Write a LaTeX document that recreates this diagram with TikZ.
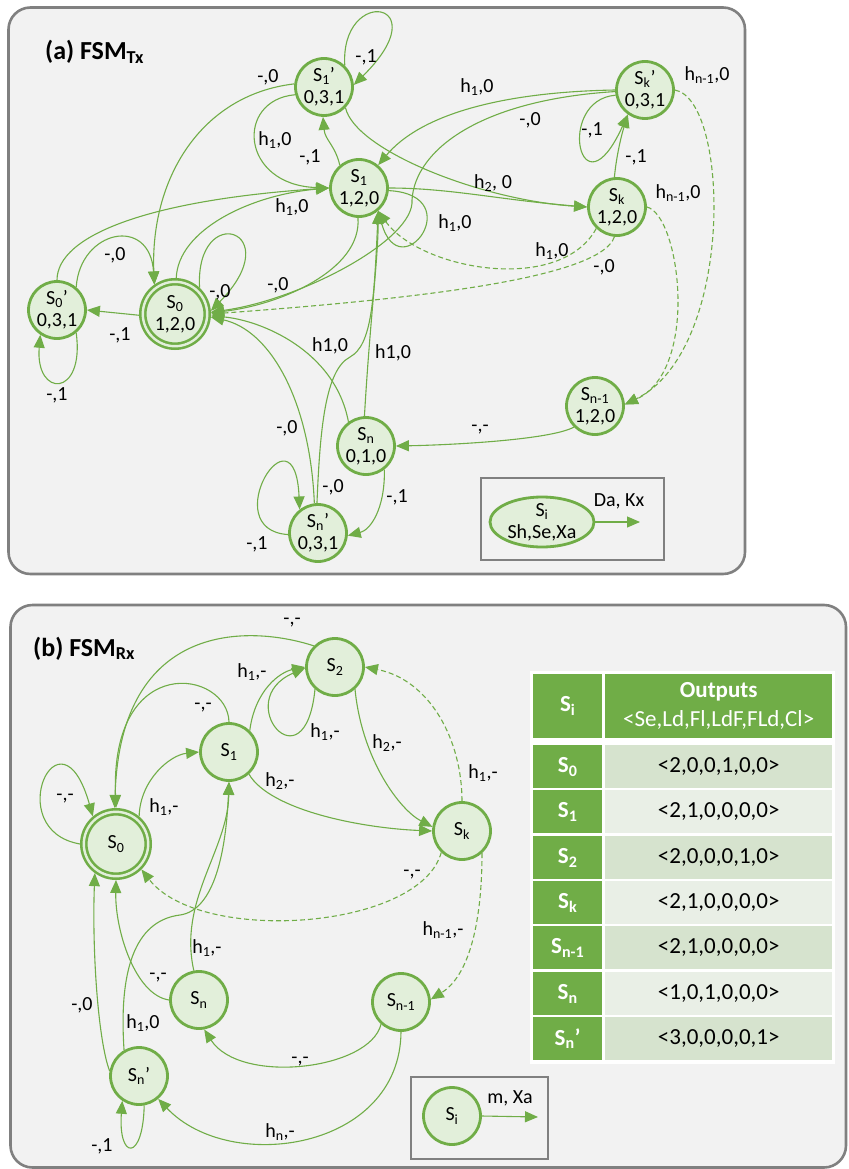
\documentclass[tikz,border=0pt]{standalone}
\usepackage{fontspec}
\setmainfont{Carlito}
\usetikzlibrary{arrows.meta,shapes.geometric}

\definecolor{gA}{HTML}{70AD47}
\definecolor{gL}{HTML}{E2EFDA}
\definecolor{panel}{HTML}{F2F2F2}
\definecolor{frame}{HTML}{808080}
\definecolor{rowD}{HTML}{D6E3CE}
\definecolor{rowL}{HTML}{E9EFE6}

\newcommand{\lblfont}{\fontsize{20}{22}\selectfont}
\newcommand{\tabfont}{\fontsize{23}{29}\selectfont}

\tikzset{
  stnode/.style={circle, draw=gA, fill=gL, line width=2.8pt, minimum size=57pt,
    inner sep=-6pt, outer sep=1.4pt, align=center, font=\lblfont},
  stinit/.style={stnode, double=gL, double distance=2.4pt, line width=2.6pt,
    minimum size=64.4pt, outer sep=3.8pt},
  tr/.style={draw=gA, line width=1.1pt, -{Triangle[length=13pt,width=11pt]}},
  trd/.style={tr, dash pattern=on 5pt off 3pt},
  lab/.style={font=\lblfont, inner sep=0pt},
  panelbox/.style={draw=frame, fill=panel, line width=2.6pt, rounded corners=22pt},
  legbox/.style={draw=frame, fill=panel, line width=2.4pt},
  hdcell/.style={fill=gA, text=white, inner sep=0pt, anchor=north west, font=\tabfont\bfseries},
  valcell/.style={inner sep=0pt, anchor=north west, minimum width=227pt,
    minimum height=43pt, font=\tabfont},
}

\begin{document}
\begin{tikzpicture}[x=1pt,y=-1pt]
\useasboundingbox (0,0) rectangle (848,1169);
\fill[white] (0,0) rectangle (848,1169);

% ---------- panels ----------
\draw[panelbox] (8.5,7.5) rectangle (745,574);
\draw[panelbox] (10.5,605) rectangle (846,1167.5);

\node[anchor=base west, inner sep=0pt, font=\fontsize{26}{30}\selectfont\bfseries] (titA) at (45,60) {(a) FSM\textsubscript{Tx}};
\node[anchor=base west, inner sep=0pt, font=\fontsize{26}{30}\selectfont\bfseries] (titB) at (33,656) {(b) FSM\textsubscript{Rx}};

% ---------- (a) transmitter FSM: states ----------
\node[stnode] (a1p) at (324,87) {S\textsubscript{1}’\\0,3,1};
\node[stnode] (a1) at (359,188) {S\textsubscript{1}\\1,2,0};
\node[stinit] (a0) at (175,314) {S\textsubscript{0}\\1,2,0};
\node[stnode] (a0p) at (57,310) {S\textsubscript{0}’\\0,3,1};
\node[stnode] (akp) at (645,90) {S\textsubscript{k}’\\0,3,1};
\node[stnode] (ak) at (617,207) {S\textsubscript{k}\\1,2,0};
\node[stnode] (an1) at (595,406) {S\textsubscript{n-1}\\1,2,0};
\node[stnode] (an) at (366,446) {S\textsubscript{n}\\0,1,0};
\node[stnode] (anp) at (318,533) {S\textsubscript{n}’\\0,3,1};

% ---------- (a) transitions ----------
\draw[tr] (a1p.46) .. controls (340,-15) and (440,0) .. (a1p.4);
\draw[tr] (a1p.174) .. controls (200,95) and (150,180) .. (a0.125);
\draw[tr] (a1p.195) .. controls (235,100) and (240,185) .. (a1.180);
\draw[tr] (a0p.90) .. controls (57,235) and (150,200) .. (a1.180);
\draw[tr] (a0.88) .. controls (178,230) and (250,195) .. (a1.180);
\draw[tr] (a1.130) .. controls (335,145) and (325,140) .. (a1p.268);
\draw[tr] (a1p.316) .. controls (355,150) and (480,200) .. (ak.180);
\draw[tr] (a1.0) .. controls (450,188) and (500,200) .. (ak.180);
\draw[tr] (akp.180) .. controls (500,92) and (420,115) .. (a1.50);
\draw[tr] (akp.183) .. controls (480,100) and (415,150) .. (412,200)
          .. controls (415,240) and (300,300) .. (a0.3);
\draw[tr] (ak.95) .. controls (616,160) and (620,140) .. (akp.235);
\draw[tr] (akp.190) .. controls (555,100) and (580,220) .. (akp.235);
\draw[tr] (a1.268) .. controls (362,270) and (280,305) .. (a0.2);
\draw[tr] (a1.-5) .. controls (470,195) and (400,290) .. (a1.-50);
\draw[trd] (ak.226) .. controls (560,295) and (420,270) .. (a1.-50);
\draw[trd] (ak.265) .. controls (600,280) and (400,300) .. (a0.0);
\draw[tr] (a0.47) .. controls (195,200) and (290,230) .. (a0.5);
\draw[tr] (a0.182) -- (a0p.0);
\draw[tr] (a0p.50) .. controls (80,230) and (150,215) .. (a0.125);
\draw[tr] (a0p.-50) .. controls (85,398) and (35,398) .. (a0p.236);
\draw[tr] (an.126) .. controls (335,350) and (260,320) .. (a0.-3);
\draw[tr] (an.93) .. controls (370,320) and (378,260) .. (a1.-50);
\draw[tr] (anp.92) .. controls (320,430) and (325,370) .. (350,357)
          .. controls (372,345) and (374,300) .. (a1.-50);
\draw[tr] (anp.97) .. controls (310,400) and (270,330) .. (a0.-5);
\draw[tr] (an.-52) .. controls (385,510) and (370,530) .. (anp.-5);
\draw[tr] (anp.183) .. controls (215,530) and (295,400) .. (anp.128);
\draw[tr] (an1.225) .. controls (550,440) and (450,445) .. (an.0);
\draw[trd] (akp.0) .. controls (730,100) and (735,350) .. (an1.3);
\draw[trd] (ak.0) .. controls (680,215) and (700,370) .. (an1.3);

% ---------- (a) transition labels ----------
\node[lab] (la1) at (366,57) {-,1};
\node[lab] (la2) at (268,77) {-,0};
\node[lab] (la3) at (275,140) {h\textsubscript{1},0};
\node[lab] (la4) at (310,157) {-,1};
\node[lab] (la5) at (292,207) {h\textsubscript{1},0};
\node[lab] (la6) at (477,87) {h\textsubscript{1},0};
\node[lab] (la7) at (530,120) {-,0};
\node[lab] (la8) at (592,130) {-,1};
\node[lab] (la9) at (636,157) {-,1};
\node[lab] (la10) at (707,75) {h\textsubscript{n-1},0};
\node[lab] (la11) at (493,183) {h\textsubscript{2}, 0};
\node[lab] (la12) at (678,193) {h\textsubscript{n-1},0};
\node[lab] (la13) at (455,223) {h\textsubscript{1},0};
\node[lab] (la14) at (552,251) {h\textsubscript{1},0};
\node[lab] (la15) at (604,267) {-,0};
\node[lab] (la16) at (115,255) {-,0};
\node[lab] (la17) at (220,292) {-,0};
\node[lab] (la18) at (278,285) {-,0};
\node[lab] (la19) at (120,335) {-,1};
\node[lab] (la20) at (57,395) {-,1};
\node[lab] (la21) at (330,346) {h1,0};
\node[lab] (la22) at (393,353) {h1,0};
\node[lab] (la23) at (287,428) {-,0};
\node[lab] (la24) at (333,487) {-,0};
\node[lab] (la25) at (397,497) {-,1};
\node[lab] (la26) at (257,544) {-,1};
\node[lab] (la27) at (480,430) {-,-};

% ---------- (a) legend ----------
\draw[legbox] (481,478) rectangle (664,560);
\node[ellipse, draw=gA, fill=gL, line width=2.8pt, minimum width=104pt, minimum height=50pt,
      inner xsep=0pt, inner ysep=-6pt, align=center, font=\lblfont] (lgA) at (542,522)
      {S\textsubscript{i}\\Sh,Se,Xa};
\coordinate (lgAend) at (640,522);
\draw[tr] (lgA.east) -- (lgAend);
\node[lab] (lgAlab) at (619,501) {Da, Kx};

% ---------- (b) receiver FSM: states ----------
\node[stnode] (b2) at (335,667) {S\textsubscript{2}};
\node[stnode] (b1) at (229,752) {S\textsubscript{1}};
\node[stinit] (b0) at (116,844) {S\textsubscript{0}};
\node[stnode] (bk) at (462,831) {S\textsubscript{k}};
\node[stnode] (bn) at (199,1000) {S\textsubscript{n}};
\node[stnode] (bn1) at (401,1002) {S\textsubscript{n-1}};
\node[stnode] (bnp) at (139,1076) {S\textsubscript{n}’};

% ---------- (b) transitions ----------
\draw[tr] (b0.180) .. controls (0,830) and (60,700) .. (b0.130);
\draw[tr] (b0.50) .. controls (140,780) and (170,755) .. (b1.180);
\draw[tr] (b1.90) .. controls (228,670) and (110,650) .. (b0.90);
\draw[tr] (b2.135) .. controls (250,625) and (120,620) .. (b0.92);
\draw[tr] (b1.46) .. controls (255,690) and (280,672) .. (b2.180);
\draw[tr] (b2.228) .. controls (305,790) and (230,700) .. (b2.182);
\draw[tr] (b1.-48) .. controls (270,810) and (360,828) .. (bk.180);
\draw[tr] (b2.-48) .. controls (362,760) and (400,810) .. (bk.172);
\draw[trd] (bk.90) .. controls (462,740) and (430,680) .. (b2.0);
\draw[trd] (bk.226) .. controls (420,930) and (200,945) .. (b0.-45);
\draw[trd] (bk.-48) .. controls (482,920) and (470,975) .. (bn1.5);
\draw[tr] (bn.180) .. controls (135,995) and (115,930) .. (b0.-90);
\draw[tr] (bn.100) .. controls (178,900) and (228,850) .. (b1.-90);
\draw[tr] (bnp.120) .. controls (118,960) and (140,920) .. (180,915)
          .. controls (215,910) and (226,850) .. (b1.-90);
\draw[tr] (bnp.170) .. controls (98,1040) and (92,950) .. (b0.234);
\draw[tr] (bnp.-80) .. controls (143,1162) and (118,1160) .. (bnp.236);
\draw[tr] (bn1.228) .. controls (370,1070) and (240,1085) .. (bn.-80);
\draw[tr] (bn1.-90) .. controls (400,1150) and (230,1175) .. (bnp.-50);

% ---------- (b) transition labels ----------
\node[lab] (lb1) at (292,623) {-,-};
\node[lab] (lb2) at (252,672) {h\textsubscript{1},-};
\node[lab] (lb3) at (203,708) {-,-};
\node[lab] (lb4) at (325,732) {h\textsubscript{1},-};
\node[lab] (lb5) at (387,743) {h\textsubscript{2},-};
\node[lab] (lb6) at (65,799) {-,-};
\node[lab] (lb7) at (164,807) {h\textsubscript{1},-};
\node[lab] (lb8) at (280,781) {h\textsubscript{2},-};
\node[lab] (lb9) at (483,773) {h\textsubscript{1},-};
\node[lab] (lb10) at (412,875) {-,-};
\node[lab] (lb11) at (443,930) {h\textsubscript{n-1},-};
\node[lab] (lb12) at (207,948) {h\textsubscript{1},-};
\node[lab] (lb13) at (158,978) {-,-};
\node[lab] (lb14) at (82,1005) {-,0};
\node[lab] (lb15) at (143,1023) {h\textsubscript{1},0};
\node[lab] (lb16) at (300,1062) {-,-};
\node[lab] (lb17) at (280,1132) {h\textsubscript{n},-};
\node[lab] (lb18) at (102,1146) {-,1};

% ---------- (b) legend ----------
\draw[legbox] (411,1077) rectangle (548,1159);
\node[stnode] (lgB) at (452,1116) {S\textsubscript{i}};
\coordinate (lgBend) at (538,1117);
\draw[tr] (lgB.east) -- (lgBend);
\node[lab] (lgBlab) at (510,1098) {m, Xa};

% ---------- (b) output table ----------
\fill[white] (530,671) rectangle (835,1064);
\node[hdcell, minimum width=69pt, minimum height=64pt] (th1) at (533,674) {S\textsubscript{i}};
\node[hdcell, minimum width=227pt, minimum height=64pt, align=center] (th2) at (605,674)
  {Outputs\\{\mdseries <Se,Ld,Fl,LdF,FLd,Cl>}};

\node[hdcell, minimum width=69pt, minimum height=43pt] (r0a) at (533,745) {S\textsubscript{0}};
\node[valcell, fill=rowD] (r0b) at (605,745) {<2,0,0,1,0,0>};
\node[hdcell, minimum width=69pt, minimum height=43pt] (r1a) at (533,790) {S\textsubscript{1}};
\node[valcell, fill=rowL] (r1b) at (605,790) {<2,1,0,0,0,0>};
\node[hdcell, minimum width=69pt, minimum height=43pt] (r2a) at (533,836) {S\textsubscript{2}};
\node[valcell, fill=rowD] (r2b) at (605,836) {<2,0,0,0,1,0>};
\node[hdcell, minimum width=69pt, minimum height=43pt] (r3a) at (533,881) {S\textsubscript{k}};
\node[valcell, fill=rowL] (r3b) at (605,881) {<2,1,0,0,0,0>};
\node[hdcell, minimum width=69pt, minimum height=43pt] (r4a) at (533,926) {S\textsubscript{n-1}};
\node[valcell, fill=rowD] (r4b) at (605,926) {<2,1,0,0,0,0>};
\node[hdcell, minimum width=69pt, minimum height=43pt] (r5a) at (533,972) {S\textsubscript{n}};
\node[valcell, fill=rowL] (r5b) at (605,972) {<1,0,1,0,0,0>};
\node[hdcell, minimum width=69pt, minimum height=43pt] (r6a) at (533,1017) {S\textsubscript{n}’};
\node[valcell, fill=rowD] (r6b) at (605,1017) {<3,0,0,0,0,1>};
\end{tikzpicture}
\end{document}
